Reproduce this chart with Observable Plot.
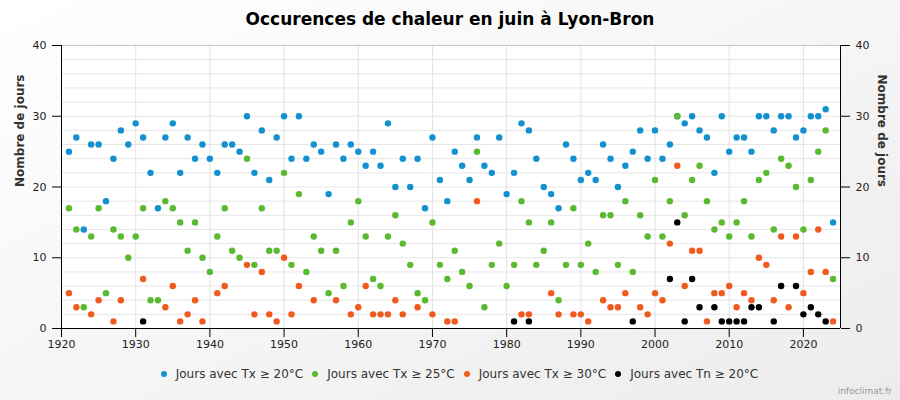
<!DOCTYPE html>
<html>
<head>
<meta charset="utf-8">
<script src="https://cdn.jsdelivr.net/npm/d3@7"></script>
<script src="https://cdn.jsdelivr.net/npm/@observablehq/plot@0.6"></script>
<style>
html, body { margin: 0; padding: 0; }
body {
  width: 900px; height: 400px; overflow: hidden; position: relative;
  background: linear-gradient(to bottom right, #ffffff 0%, #ececec 100%);
  font-family: "DejaVu Sans", Verdana, sans-serif;
}
#title {
  height: 34px; line-height: 38px; text-align: center;
  font-weight: bold; font-size: 17px; color: #000;
}
#chart svg { display: block; background: transparent; overflow: visible; }
#legend {
  position: absolute; left: 0; top: 367px; width: 900px;
  display: flex; justify-content: center; padding-left: 28px; box-sizing: border-box;
  font-size: 12px; color: #333;
}
.item { display: flex; align-items: center; margin-right: 9px; }
.sw { width: 6px; height: 6px; border-radius: 50%; margin-right: 9px; }
#credit {
  position: absolute; right: 8px; top: 386px; font-size: 9px; color: #999;
}
</style>
</head>
<body>
<div id="title">Occurences de chaleur en juin à Lyon-Bron</div>
<div id="chart"></div>
<div id="legend"></div>
<div id="credit">infoclimat.fr</div>
<script>
const years = [1921,1922,1923,1924,1925,1926,1927,1928,1929,1930,
  1931,1932,1933,1934,1935,1936,1937,1938,1939,1940,
  1941,1942,1943,1944,1945,1946,1947,1948,1949,1950,
  1951,1952,1953,1954,1955,1956,1957,1958,1959,1960,
  1961,1962,1963,1964,1965,1966,1967,1968,1969,1970,
  1971,1972,1973,1974,1975,1976,1977,1978,1979,1980,
  1981,1982,1983,1984,1985,1986,1987,1988,1989,1990,
  1991,1992,1993,1994,1995,1996,1997,1998,1999,2000,
  2001,2002,2003,2004,2005,2006,2007,2008,2009,2010,
  2011,2012,2013,2014,2015,2016,2017,2018,2019,2020,
  2021,2022,2023,2024];

const tx20 = [25,27,14,26,26,18,24,28,26,29,
  27,22,17,27,29,22,27,24,26,24,
  22,26,26,25,30,22,28,21,27,30,
  24,30,24,26,25,19,26,24,26,25,
  23,25,23,29,20,24,20,24,17,27,
  21,18,25,23,21,27,23,22,27,19,
  22,29,28,24,20,19,17,26,24,21,
  22,21,26,24,20,23,25,28,24,28,
  24,26,30,29,30,28,27,22,30,25,
  27,27,25,30,30,28,30,30,27,28,
  30,30,31,15];

const tx25 = [17,14,3,13,17,5,14,13,10,13,
  17,4,4,18,17,15,11,15,10,8,
  13,17,11,10,24,9,17,11,11,22,
  9,19,8,13,11,5,11,6,15,18,
  13,7,6,13,16,12,9,5,4,15,
  9,7,11,8,6,25,3,9,12,6,
  9,18,15,9,11,15,4,9,17,9,
  12,8,16,16,9,18,8,16,13,21,
  13,18,30,16,21,23,18,14,15,13,
  15,18,13,21,22,14,24,23,20,14,
  21,25,28,7];

const tx30 = [5,3,0,2,4,0,1,4,0,0,
  7,0,0,3,6,1,2,4,1,0,
  5,6,0,0,9,2,8,2,1,10,
  2,6,0,4,0,0,4,0,2,3,
  6,2,2,2,4,2,0,3,0,2,
  0,1,1,0,0,18,0,0,0,0,
  0,2,2,0,0,5,2,0,2,2,
  1,0,4,3,3,5,0,3,2,5,
  4,12,23,6,11,11,1,5,5,6,
  3,5,4,10,9,4,13,3,13,5,
  8,14,8,1];

const tn20 = [0,0,0,0,0,0,0,0,0,0,
  1,0,0,0,0,0,0,0,0,0,
  0,0,0,0,0,0,0,0,0,0,
  0,0,0,0,0,0,0,0,0,0,
  0,0,0,0,0,0,0,0,0,0,
  0,0,0,0,0,0,0,0,0,0,
  1,0,1,0,0,0,0,0,0,0,
  0,0,0,0,0,0,1,0,0,0,
  0,7,15,1,7,3,0,3,1,1,
  1,1,3,3,0,1,6,0,6,2,
  3,2,1,0];

const seriesNames = ["Jours avec Tx ≥ 20°C", "Jours avec Tx ≥ 25°C", "Jours avec Tx ≥ 30°C", "Jours avec Tn ≥ 20°C"];
const seriesColors = ["#1290cf", "#5ab92e", "#f15a1f", "#000000"];
const seriesValues = [tx20, tx25, tx30, tn20];
const yTicks = [0, 10, 20, 30, 40];
const xTicks = [1920, 1930, 1940, 1950, 1960, 1970, 1980, 1990, 2000, 2010, 2020];
const yMinorGrid = [2, 4, 6, 8, 10, 12, 14, 16, 18, 20, 22, 24, 26, 28, 30, 32, 34, 36, 38];
const xDomain = [1920, 2025];
const yDomain = [0, 40];

const rows = seriesValues.map((vals, s) =>
  years.map((yr, i) => ({ year: yr, value: vals[i], series: seriesNames[s] }))
       .filter(d => d.value > 0)
);

const dotMarks = rows.map((data, s) =>
  Plot.dot(data, { x: "year", y: "value", r: 3.2, fill: seriesColors[s], stroke: "none" })
);

const chart = Plot.plot({
  width: 900,
  height: 318,
  marginTop: 11,
  marginBottom: 24,
  marginLeft: 61,
  marginRight: 60,
  style: { background: "transparent", fontFamily: "DejaVu Sans, Verdana, sans-serif", fontSize: "11px", color: "#222" },
  x: { domain: xDomain, label: null },
  y: { domain: yDomain, label: null },
  marks: [
    Plot.frame({ fill: "white", stroke: "none" }),
    Plot.ruleY(yMinorGrid, { stroke: "#e6e6e6", strokeWidth: 1 }),
    Plot.ruleX(xTicks.filter(t => t > xDomain[0]), { stroke: "#e3e3e3", strokeWidth: 1 }),
    Plot.ruleY([yDomain[1]], { stroke: "#c4c4c4", strokeWidth: 1 }),
    Plot.ruleX(xDomain, { stroke: "#000", strokeWidth: 1 }),
    Plot.ruleY([yDomain[0]], { stroke: "#000", strokeWidth: 1 }),
    ...dotMarks,
    Plot.axisY({ anchor: "left", ticks: yTicks, tickSize: 9, tickPadding: 6, label: null, stroke: "#000", fill: "#222" }),
    Plot.axisY({ anchor: "right", ticks: yTicks, tickSize: 9, tickPadding: 6, label: null, stroke: "#000", fill: "#222" }),
    Plot.axisX({ anchor: "bottom", ticks: xTicks, tickSize: 9, tickPadding: 3, tickFormat: d => String(d), label: null, stroke: "#000", fill: "#222" }),
    Plot.text(["Nombre de jours"], { frameAnchor: "left", dx: -41, rotate: -90, fontWeight: "bold", fontSize: 12, fill: "#333" }),
    Plot.text(["Nombre de jours"], { frameAnchor: "right", dx: 41, rotate: 90, fontWeight: "bold", fontSize: 12, fill: "#333" })
  ]
});
document.getElementById("chart").appendChild(chart);

const legend = document.getElementById("legend");
seriesNames.forEach((name, i) => {
  const item = document.createElement("div");
  item.className = "item";
  const sw = document.createElement("span");
  sw.className = "sw";
  sw.style.background = seriesColors[i];
  const label = document.createElement("span");
  label.textContent = name;
  item.appendChild(sw);
  item.appendChild(label);
  legend.appendChild(item);
});
</script>
</body>
</html>
